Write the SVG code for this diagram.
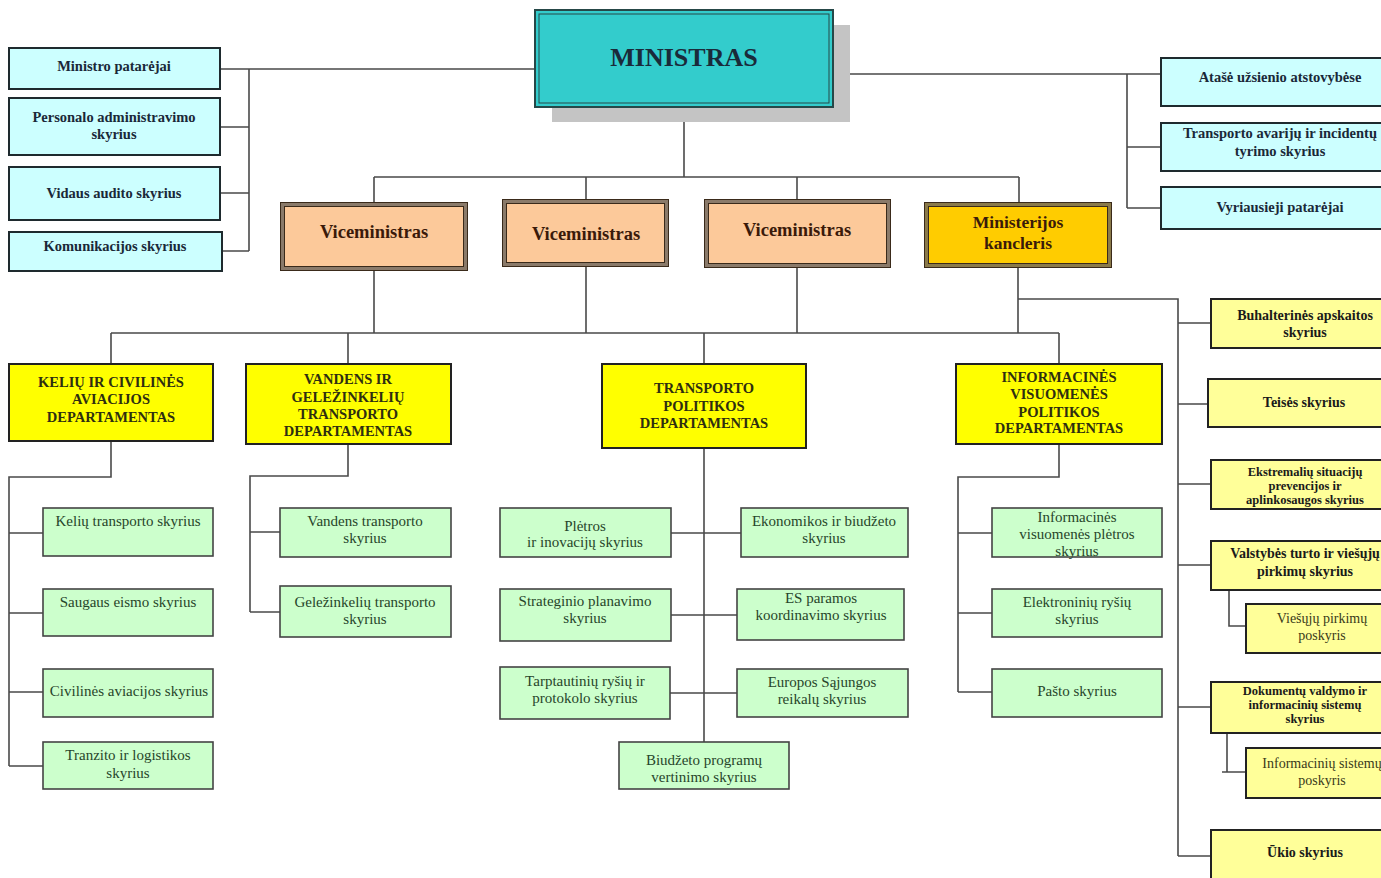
<svg xmlns="http://www.w3.org/2000/svg" width="1381" height="878" viewBox="0 0 1381 878">
<style>
text{font-family:"Liberation Serif","Times New Roman",serif;text-anchor:middle}
.b{font-weight:bold}
.cy{fill:#ccffff;stroke:#1e2a2e;stroke-width:2}
.ty{fill:#1a2838;font-size:14.5px;font-weight:bold}
.dep{fill:#ffff00;stroke:#222;stroke-width:2}
.td{fill:#2e2e10;font-size:14.5px;font-weight:bold}
.gr{fill:#ccffcc;stroke:#444;stroke-width:1.6}
.tg{fill:#27452a;font-size:15px}
.ly{fill:#ffff99;stroke:#222;stroke-width:2}
.tl{fill:#1a1a1a;font-size:14px;font-weight:bold}
.ts{fill:#1a1a1a;font-size:12.5px;font-weight:bold}
.tln{fill:#3a3a1a;font-size:14px}
.vo{fill:#fcc99a;stroke:#8a7a6a;stroke-width:3}
.vi{fill:none;stroke:#3a2a1a;stroke-width:1}
.tv{fill:#3a1a0a;font-size:18.5px;font-weight:bold}
.cn{fill:none;stroke:#4a4a4a;stroke-width:1.6}
</style>
<rect width="1381" height="878" fill="#ffffff"/>
<g id="connectors" class="cn">
<path d="M220 69H535M249 69V251M220 127H249M220 193H249M222 251H249"/>
<path d="M850 74H1161M1127 74V208M1127 147H1161M1127 208H1161"/>
<path d="M684 122V177M374 177H1019M374 177V203M586 177V200M797 177V200M1019 177V203"/>
<path d="M374 270V333M586 266V333M797 267V333M1018 267V333M111 333H1059M111 333V364M348 333V364M704 333V364M1059 333V364"/>
<path d="M1018 299H1178V856M1178 323H1211M1178 404H1208M1178 484H1211M1178 565H1211M1178 707H1211M1178 856H1211"/>
<path d="M1229 590V626H1246M1227 733V772H1246M1222 772H1227"/>
<path d="M111 441V477H9V766M9 533H43M9 613H43M9 692H43M9 766H43"/>
<path d="M348 444V476H250V612M250 532H280M250 612H280"/>
<path d="M704 448V742M671 533H741M671 615H737M670 693H737"/>
<path d="M1059 444V477H958V692M958 533H992M958 613H992M958 692H992"/>
</g>
<g id="ministras">
<rect x="552" y="25" width="298" height="97" fill="#c4c4c4"/>
<rect x="535" y="10" width="298" height="97" fill="#33cccc" stroke="#264848" stroke-width="2"/>
<rect x="539" y="14" width="290" height="89" fill="none" stroke="#264848" stroke-width="1"/>
<text x="684" y="66" class="b" style="font-size:26px;fill:#1a2a3a">MINISTRAS</text>
</g>
<g id="ministro-patarejai"><rect class="cy" x="9" y="48" width="211" height="41"/><text class="ty" x="114" y="71">Ministro patarėjai</text></g>
<g id="personalo"><rect class="cy" x="9" y="98" width="211" height="57"/><text class="ty" x="114" y="122">Personalo administravimo</text><text class="ty" x="114" y="139">skyrius</text></g>
<g id="vidaus-audito"><rect class="cy" x="9" y="167" width="211" height="53"/><text class="ty" x="114" y="198">Vidaus audito skyrius</text></g>
<g id="komunikacijos"><rect class="cy" x="9" y="232" width="213" height="39"/><text class="ty" x="115" y="251">Komunikacijos skyrius</text></g>
<g id="atase"><rect class="cy" x="1161" y="58" width="238" height="48"/><text class="ty" x="1280" y="82">Atašė užsienio atstovybėse</text></g>
<g id="transporto-avariju"><rect class="cy" x="1161" y="123" width="238" height="48"/><text class="ty" x="1280" y="138">Transporto avarijų ir incidentų</text><text class="ty" x="1280" y="156">tyrimo skyrius</text></g>
<g id="vyriausieji"><rect class="cy" x="1161" y="187" width="238" height="42"/><text class="ty" x="1280" y="212">Vyriausieji patarėjai</text></g>
<g id="viceministras-1"><rect class="vo" x="282.5" y="204.5" width="183" height="64"/><rect class="vi" x="280.5" y="202.5" width="187" height="68"/><rect class="vi" x="284.5" y="206.5" width="179" height="60"/><text class="tv" x="374" y="238">Viceministras</text></g>
<g id="viceministras-2"><rect class="vo" x="504.5" y="201.5" width="162" height="63"/><rect class="vi" x="502.5" y="199.5" width="166" height="67"/><rect class="vi" x="506.5" y="203.5" width="158" height="59"/><text class="tv" x="586" y="240">Viceministras</text></g>
<g id="viceministras-3"><rect class="vo" x="706.5" y="201.5" width="182" height="64"/><rect class="vi" x="704.5" y="199.5" width="186" height="68"/><rect class="vi" x="708.5" y="203.5" width="178" height="60"/><text class="tv" x="797" y="236">Viceministras</text></g>
<g id="kancleris"><rect x="926.5" y="204.5" width="183" height="61" fill="#ffcc00" stroke="#8a7a4a" stroke-width="3"/><rect class="vi" x="924.5" y="202.5" width="187" height="65"/><rect class="vi" x="928.5" y="206.5" width="179" height="57"/><text class="tv" x="1018" y="228" style="font-size:17.5px">Ministerijos</text><text class="tv" x="1018" y="249" style="font-size:17.5px">kancleris</text></g>
<g id="keliu-dep"><rect class="dep" x="9" y="364" width="204" height="77"/><text class="td" x="111" y="387">KELIŲ IR CIVILINĖS</text><text class="td" x="111" y="404">AVIACIJOS</text><text class="td" x="111" y="422">DEPARTAMENTAS</text></g>
<g id="vandens-dep"><rect class="dep" x="246" y="364" width="205" height="80"/><text class="td" x="348" y="384">VANDENS IR</text><text class="td" x="348" y="402">GELEŽINKELIŲ</text><text class="td" x="348" y="419">TRANSPORTO</text><text class="td" x="348" y="436">DEPARTAMENTAS</text></g>
<g id="transporto-dep"><rect class="dep" x="602" y="364" width="204" height="84"/><text class="td" x="704" y="393">TRANSPORTO</text><text class="td" x="704" y="411">POLITIKOS</text><text class="td" x="704" y="428">DEPARTAMENTAS</text></g>
<g id="informacines-dep"><rect class="dep" x="956" y="364" width="206" height="80"/><text class="td" x="1059" y="382">INFORMACINĖS</text><text class="td" x="1059" y="399">VISUOMENĖS</text><text class="td" x="1059" y="417">POLITIKOS</text><text class="td" x="1059" y="433">DEPARTAMENTAS</text></g>
<g id="keliu-transporto"><rect class="gr" x="43" y="508" width="170" height="48"/><text class="tg" x="128" y="526">Kelių transporto skyrius</text></g>
<g id="saugaus-eismo"><rect class="gr" x="43" y="589" width="170" height="47"/><text class="tg" x="128" y="607">Saugaus eismo skyrius</text></g>
<g id="civilines-aviacijos"><rect class="gr" x="43" y="669" width="170" height="48"/><text class="tg" x="129" y="696">Civilinės aviacijos skyrius</text></g>
<g id="tranzito"><rect class="gr" x="43" y="742" width="170" height="47"/><text class="tg" x="128" y="760">Tranzito ir logistikos</text><text class="tg" x="128" y="778">skyrius</text></g>
<g id="vandens-transporto"><rect class="gr" x="280" y="508" width="171" height="49"/><text class="tg" x="365" y="526">Vandens transporto</text><text class="tg" x="365" y="543">skyrius</text></g>
<g id="gelezinkeliu"><rect class="gr" x="280" y="586" width="171" height="51"/><text class="tg" x="365" y="607">Geležinkelių transporto</text><text class="tg" x="365" y="624">skyrius</text></g>
<g id="pletros"><rect class="gr" x="500" y="508" width="171" height="49"/><text class="tg" x="585" y="531">Plėtros</text><text class="tg" x="585" y="547">ir inovacijų skyrius</text></g>
<g id="ekonomikos"><rect class="gr" x="741" y="508" width="167" height="49"/><text class="tg" x="824" y="526">Ekonomikos  ir biudžeto</text><text class="tg" x="824" y="543">skyrius</text></g>
<g id="strateginio"><rect class="gr" x="500" y="589" width="171" height="52"/><text class="tg" x="585" y="606">Strateginio planavimo</text><text class="tg" x="585" y="623">skyrius</text></g>
<g id="es-paramos"><rect class="gr" x="737" y="589" width="167" height="51"/><text class="tg" x="821" y="603">ES paramos</text><text class="tg" x="821" y="620">koordinavimo skyrius</text></g>
<g id="tarptautiniu"><rect class="gr" x="500" y="667" width="170" height="52"/><text class="tg" x="585" y="686">Tarptautinių ryšių ir</text><text class="tg" x="585" y="703">protokolo skyrius</text></g>
<g id="europos"><rect class="gr" x="737" y="669" width="171" height="48"/><text class="tg" x="822" y="687">Europos Sąjungos</text><text class="tg" x="822" y="704">reikalų skyrius</text></g>
<g id="biudzeto"><rect class="gr" x="619" y="742" width="170" height="47"/><text class="tg" x="704" y="765">Biudžeto programų</text><text class="tg" x="704" y="782">vertinimo  skyrius</text></g>
<g id="informacines-pletros"><rect class="gr" x="992" y="508" width="170" height="49"/><text class="tg" x="1077" y="522">Informacinės</text><text class="tg" x="1077" y="539">visuomenės plėtros</text><text class="tg" x="1077" y="556">skyrius</text></g>
<g id="elektroniniu"><rect class="gr" x="992" y="589" width="170" height="48"/><text class="tg" x="1077" y="607">Elektroninių ryšių</text><text class="tg" x="1077" y="624">skyrius</text></g>
<g id="pasto"><rect class="gr" x="992" y="669" width="170" height="48"/><text class="tg" x="1077" y="696">Pašto skyrius</text></g>
<g id="buhalterines"><rect class="ly" x="1211" y="299" width="189" height="49"/><text class="tl" x="1305" y="320">Buhalterinės apskaitos</text><text class="tl" x="1305" y="337">skyrius</text></g>
<g id="teises"><rect class="ly" x="1208" y="379" width="192" height="48"/><text class="tl" x="1304" y="407">Teisės skyrius</text></g>
<g id="ekstremaliu"><rect class="ly" x="1211" y="460" width="189" height="49"/><text class="ts" x="1305" y="476">Ekstremalių situacijų</text><text class="ts" x="1305" y="490">prevencijos ir</text><text class="ts" x="1305" y="504">aplinkosaugos skyrius</text></g>
<g id="valstybes-turto"><rect class="ly" x="1211" y="541" width="189" height="49"/><text class="tl" x="1305" y="558">Valstybės turto ir viešųjų</text><text class="tl" x="1305" y="576">pirkimų skyrius</text></g>
<g id="viesuju-pirkimu"><rect class="ly" x="1246" y="604" width="154" height="49"/><text class="tln" x="1322" y="623">Viešųjų pirkimų</text><text class="tln" x="1322" y="640">poskyris</text></g>
<g id="dokumentu"><rect class="ly" x="1211" y="682" width="189" height="51"/><text class="ts" x="1305" y="695">Dokumentų valdymo ir</text><text class="ts" x="1305" y="709">informacinių sistemų</text><text class="ts" x="1305" y="723">skyrius</text></g>
<g id="informaciniu-sistemu"><rect class="ly" x="1246" y="748" width="154" height="50"/><text class="tln" x="1322" y="768">Informacinių sistemų</text><text class="tln" x="1322" y="785">poskyris</text></g>
<g id="ukio"><rect class="ly" x="1211" y="830" width="189" height="60"/><text class="tl" x="1305" y="857">Ūkio skyrius</text></g>
</svg>
